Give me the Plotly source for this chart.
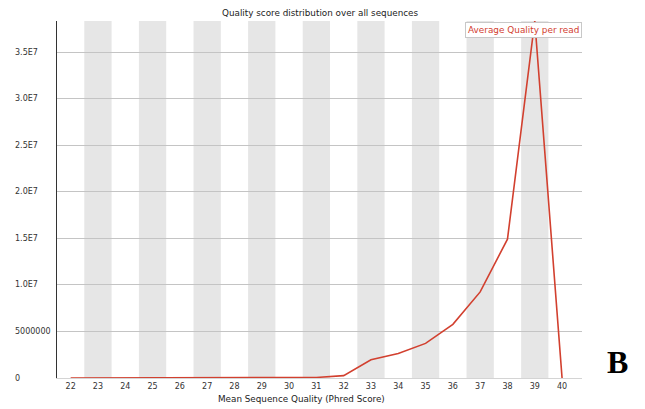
import plotly.graph_objects as go

# Mean per-read Phred quality and number of reads at each score
quality = [22, 23, 24, 25, 26, 27, 28, 29, 30, 31, 32, 33, 34, 35, 36, 37, 38, 39, 40]
read_counts = [0, 0, 0, 0, 0, 0, 0, 0, 10000, 60000, 250000, 1960000, 2640000,
               3720000, 5770000, 9250000, 14920000, 38360000, 0]

y_tick_values = [0, 5000000, 10000000, 15000000, 20000000, 25000000, 30000000, 35000000]
y_tick_labels = ["0", "5000000", "1.0E7", "1.5E7", "2.0E7", "2.5E7", "3.0E7", "3.5E7"]

series_name = "Average Quality per read"
title_text = "Quality score distribution over all sequences"
x_title = "Mean Sequence Quality (Phred Score)"
panel_label = "B"

W, H = 645, 409
L, R, T, B = 57, 63, 21, 31
plot_w = W - L - R
plot_h = H - T - B

red = "#d2402f"
font = "DejaVu Sans"

fig = go.Figure()
fig.add_trace(go.Scatter(
    x=quality, y=read_counts, mode="lines", name=series_name,
    line=dict(color=red, width=1.6), cliponaxis=False, showlegend=False,
))

# alternating grey bands behind odd scores
shapes = []
for q in quality:
    if q % 2 == 1:
        shapes.append(dict(type="rect", xref="x", yref="paper",
                           x0=q - 0.5, x1=q + 0.5, y0=0, y1=1,
                           fillcolor="#e6e6e6", line=dict(width=0), layer="below"))

def px_x(p):
    return (p - L) / plot_w

def px_y(p):
    return 1 - (p - T) / plot_h

annotations = []
# left-aligned y tick labels
for v, t in zip(y_tick_values, y_tick_labels):
    annotations.append(dict(x=px_x(13), xref="paper", y=v, yref="y", text=t,
                            showarrow=False, xanchor="left", yanchor="middle",
                            font=dict(family=font, size=8, color="#333333")))
annotations += [
    dict(x=px_x(320), y=px_y(12.5), xref="paper", yref="paper", text=title_text,
         showarrow=False, xanchor="center", yanchor="middle",
         font=dict(family=font, size=8.8, color="#222222")),
    dict(x=px_x(301.5), y=px_y(399), xref="paper", yref="paper", text=x_title,
         showarrow=False, xanchor="center", yanchor="middle",
         font=dict(family=font, size=8.8, color="#222222")),
    dict(x=1, y=px_y(22.3), xref="paper", yref="paper", text=series_name,
         showarrow=False, xanchor="right", yanchor="top",
         bgcolor="white", bordercolor="#c8c8c8", borderwidth=1, borderpad=2,
         font=dict(family=font, size=8.9, color=red)),
    dict(x=px_x(617), y=px_y(362), xref="paper", yref="paper", text="<b>" + panel_label + "</b>",
         showarrow=False, xanchor="center", yanchor="middle",
         font=dict(family="Liberation Serif", size=32, color="black")),
]

fig.update_layout(
    width=W, height=H,
    margin=dict(l=L, r=R, t=T, b=B, pad=0),
    paper_bgcolor="white", plot_bgcolor="white",
    shapes=shapes, annotations=annotations,
    xaxis=dict(range=[21.5, 40.73], tickvals=quality, ticktext=[str(q) for q in quality],
               showgrid=False, zeroline=False, showline=True, linecolor="#d4d4d4", linewidth=1,
               ticks="", tickfont=dict(family=font, size=8, color="#333333")),
    yaxis=dict(range=[0, max(read_counts)], tickvals=y_tick_values, showticklabels=False,
               showgrid=True, gridcolor="#c4c4c4", gridwidth=1, zeroline=False,
               showline=True, linecolor="#333333", linewidth=1, ticks=""),
)

fig.write_html("out.html")
